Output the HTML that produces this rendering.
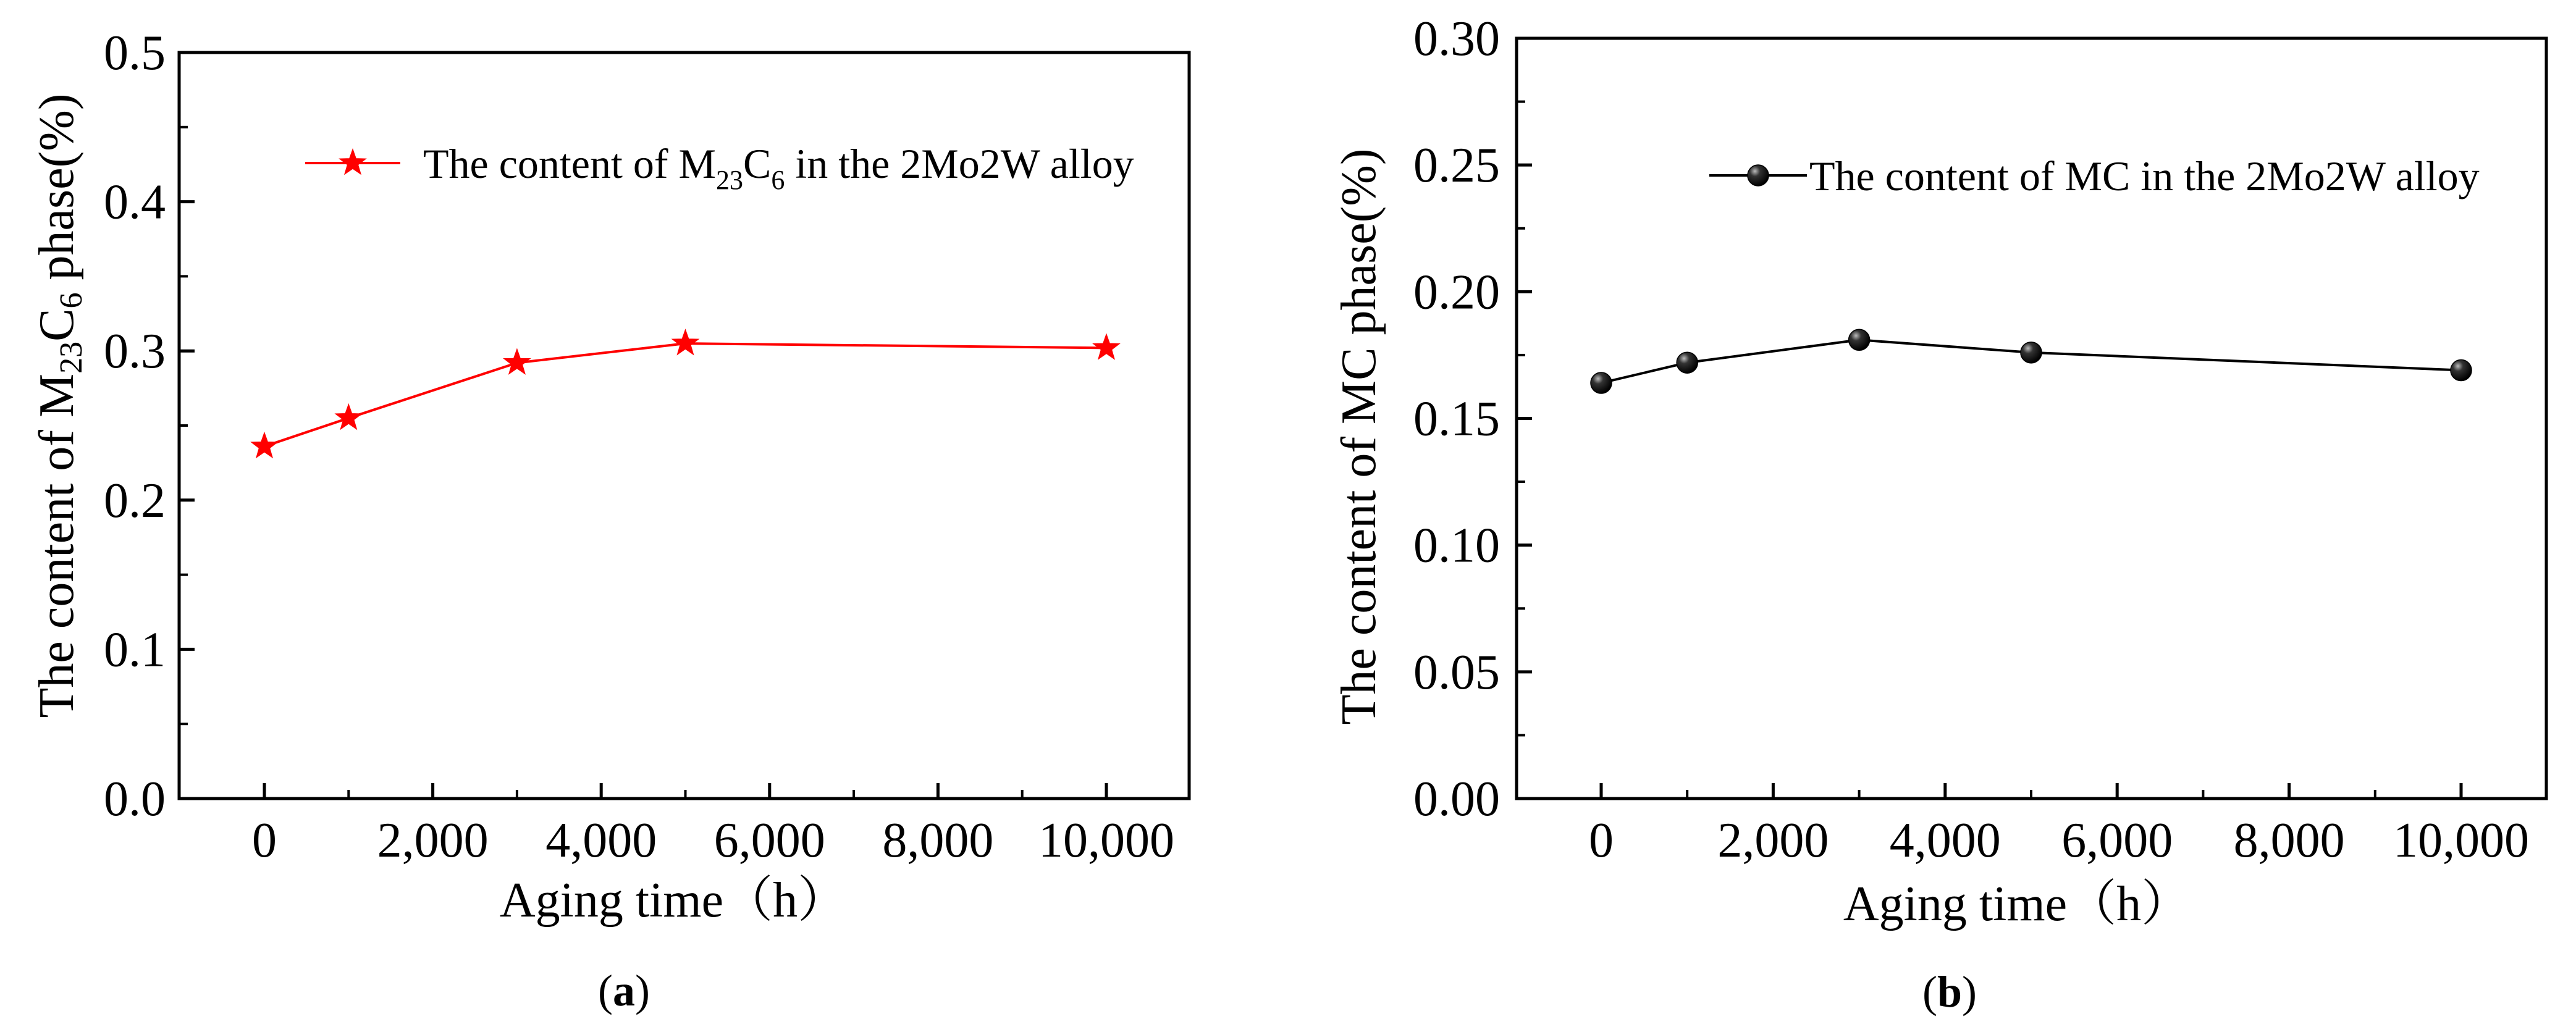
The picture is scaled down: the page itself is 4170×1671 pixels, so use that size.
<!DOCTYPE html>
<html><head><meta charset="utf-8">
<style>
html,body{margin:0;padding:0;background:#fff;}
svg{display:block;}
text{font-family:"Liberation Serif","Noto Serif CJK SC",serif;fill:#000;}
</style></head>
<body>
<svg id="fig" width="4170" height="1671" viewBox="0 0 4170 1671" xmlns="http://www.w3.org/2000/svg">
<defs>
<radialGradient id="ball" cx="0.35" cy="0.3" r="0.7">
<stop offset="0" stop-color="#bbb"/><stop offset="0.35" stop-color="#333"/><stop offset="1" stop-color="#000"/>
</radialGradient>
</defs>
</svg>
<script>
const xValues = [0, 1000, 3000, 5000, 10000];
const m23c6Values = [0.236, 0.255, 0.292, 0.305, 0.302];
const mcValues = [0.164, 0.172, 0.181, 0.176, 0.169];
const xTicks = [0, 2000, 4000, 6000, 8000, 10000];
const xTickLabels = ["0", "2,000", "4,000", "6,000", "8,000", "10,000"];
const yTicksA = [0, 0.1, 0.2, 0.3, 0.4, 0.5];
const yTickLabelsA = ["0.0", "0.1", "0.2", "0.3", "0.4", "0.5"];
const yTicksB = [0, 0.05, 0.10, 0.15, 0.20, 0.25, 0.30];
const yTickLabelsB = ["0.00", "0.05", "0.10", "0.15", "0.20", "0.25", "0.30"];

const NS = "http://www.w3.org/2000/svg";
const svg = document.getElementById('fig');
function mk(tag, attrs, parent, txt) {
  const e = document.createElementNS(NS, tag);
  for (const k in attrs) e.setAttribute(k, attrs[k]);
  if (txt !== undefined) e.textContent = txt;
  (parent || svg).appendChild(e);
  return e;
}

function panel(cfg) {
  const g = mk('g', {});
  
  
  const sx = v => cfg.x0 + (v - 0) * (cfg.x10k - cfg.x0) / 10000;
  const sy = v => cfg.bottom - v * (cfg.bottom - cfg.top) / cfg.ymax;
  // ticks
  for (let i = 0; i < cfg.yTicks.length; i++) {
    const y = sy(cfg.yTicks[i]);
    const t = mk('line', {x1: cfg.left, x2: cfg.left + 25, y1: y, y2: y, stroke: '#000', 'stroke-width': 5}, g);
    
    
    const l = mk('text', {x: cfg.ylabX, y: y + 27, 'text-anchor': 'end', 'font-size': 80}, g, cfg.yLabels[i]);
    
    
    if (i < cfg.yTicks.length - 1) {
      const ym = sy((cfg.yTicks[i] + cfg.yTicks[i + 1]) / 2);
      const m = mk('line', {x1: cfg.left, x2: cfg.left + 14, y1: ym, y2: ym, stroke: '#000', 'stroke-width': 4}, g);
      
      
    }
  }
  for (let i = 0; i < xTicks.length; i++) {
    const x = sx(xTicks[i]);
    const t = mk('line', {x1: x, x2: x, y1: cfg.bottom, y2: cfg.bottom - 25, stroke: '#000', 'stroke-width': 5}, g);
    
    
    const l = mk('text', {x: x, y: 1387, 'text-anchor': 'middle', 'font-size': 80}, g, xTickLabels[i]);
    
    
    const xm = sx(xTicks[i] + 1000);
    if (xm < cfg.right) {
      const m = mk('line', {x1: xm, x2: xm, y1: cfg.bottom, y2: cfg.bottom - 14, stroke: '#000', 'stroke-width': 4}, g);
      
      
    }
  }
  const fr = mk('rect', {x: cfg.left, y: cfg.top, width: cfg.right - cfg.left, height: cfg.bottom - cfg.top, fill: 'none', stroke: '#000', 'stroke-width': 5}, g);
  
  
  // series
  const pts = xValues.map((v, i) => sx(v) + ',' + sy(cfg.values[i])).join(' ');
  const pl = mk('polyline', {points: pts, fill: 'none', stroke: cfg.color, 'stroke-width': 4}, g);
  
  
  xValues.forEach((v, i) => {
    const m = cfg.marker(sx(v), sy(cfg.values[i]), g);
    
    
  });
  // legend
  const ll = mk('line', {x1: cfg.legX1, x2: cfg.legX2, y1: cfg.legY, y2: cfg.legY, stroke: cfg.color, 'stroke-width': 4}, g);
  
  
  const lm = cfg.marker((cfg.legX1 + cfg.legX2) / 2, cfg.legY, g);
  
  
  return {g, sx, sy};
}

function star(cx, cy, parent) {
  const R = 21, r = 8.5;
  let p = [];
  for (let k = 0; k < 10; k++) {
    const a = -Math.PI / 2 + k * Math.PI / 5;
    const rr = k % 2 ? r : R;
    p.push((cx + rr * Math.cos(a)).toFixed(1) + ',' + (cy + rr * Math.sin(a)).toFixed(1));
  }
  return mk('polygon', {points: p.join(' '), fill: '#ff0000', stroke: '#ff0000', 'stroke-width': 2}, parent);
}
function ball(cx, cy, parent) {
  return mk('circle', {cx: cx, cy: cy, r: 17, fill: 'url(#ball)', stroke: '#000', 'stroke-width': 1.5}, parent);
}

const A = panel({name: 'chart-a', left: 290, right: 1925, top: 85, bottom: 1293, x0: 428, x10k: 1791, ymax: 0.5,
  yTicks: yTicksA, yLabels: yTickLabelsA, ylabX: 268, values: m23c6Values, color: '#ff0000', marker: star,
  legX1: 494, legX2: 648, legY: 264});
const B = panel({name: 'chart-b', left: 2455, right: 4122, top: 62, bottom: 1293, x0: 2592, x10k: 3984, ymax: 0.3,
  yTicks: yTicksB, yLabels: yTickLabelsB, ylabX: 2428, values: mcValues, color: '#000', marker: ball,
  legX1: 2767, legX2: 2925, legY: 284});
</script>

<svg style="position:absolute;left:0;top:0" width="4170" height="1671" xmlns="http://www.w3.org/2000/svg">
  <text x="685" y="288" font-size="68" style="font-family:'Liberation Serif',serif">The content of M<tspan font-size="44" dy="18">23</tspan><tspan dy="-18">C</tspan><tspan font-size="44" dy="18">6</tspan><tspan dy="-18"> in the 2Mo2W alloy</tspan></text>
  <text x="2929" y="308" font-size="68" style="font-family:'Liberation Serif',serif">The content of MC in the 2Mo2W alloy</text>

  <text transform="translate(118,657) rotate(-90)" text-anchor="middle" font-size="80" style="font-family:'Liberation Serif',serif">The content of M<tspan font-size="52" dy="14">23</tspan><tspan dy="-14">C</tspan><tspan font-size="52" dy="14">6</tspan><tspan dy="-14">  phase(%)</tspan></text>
  <text transform="translate(2226,707) rotate(-90)" text-anchor="middle" font-size="80" style="font-family:'Liberation Serif',serif">The content of MC  phase(%)</text>

  <text x="1090" y="1484" text-anchor="middle" font-size="80" style="font-family:'Liberation Serif','Noto Serif CJK SC',serif">Aging time（h）</text>
  <text x="3265" y="1490" text-anchor="middle" font-size="80" style="font-family:'Liberation Serif','Noto Serif CJK SC',serif">Aging time（h）</text>

  <text x="1010" y="1628" text-anchor="middle" font-size="72" style="font-family:'Liberation Serif',serif">(<tspan font-weight="bold">a</tspan>)</text>
  <text x="3156" y="1630" text-anchor="middle" font-size="72" style="font-family:'Liberation Serif',serif">(<tspan font-weight="bold">b</tspan>)</text>
</svg>
</body></html>
